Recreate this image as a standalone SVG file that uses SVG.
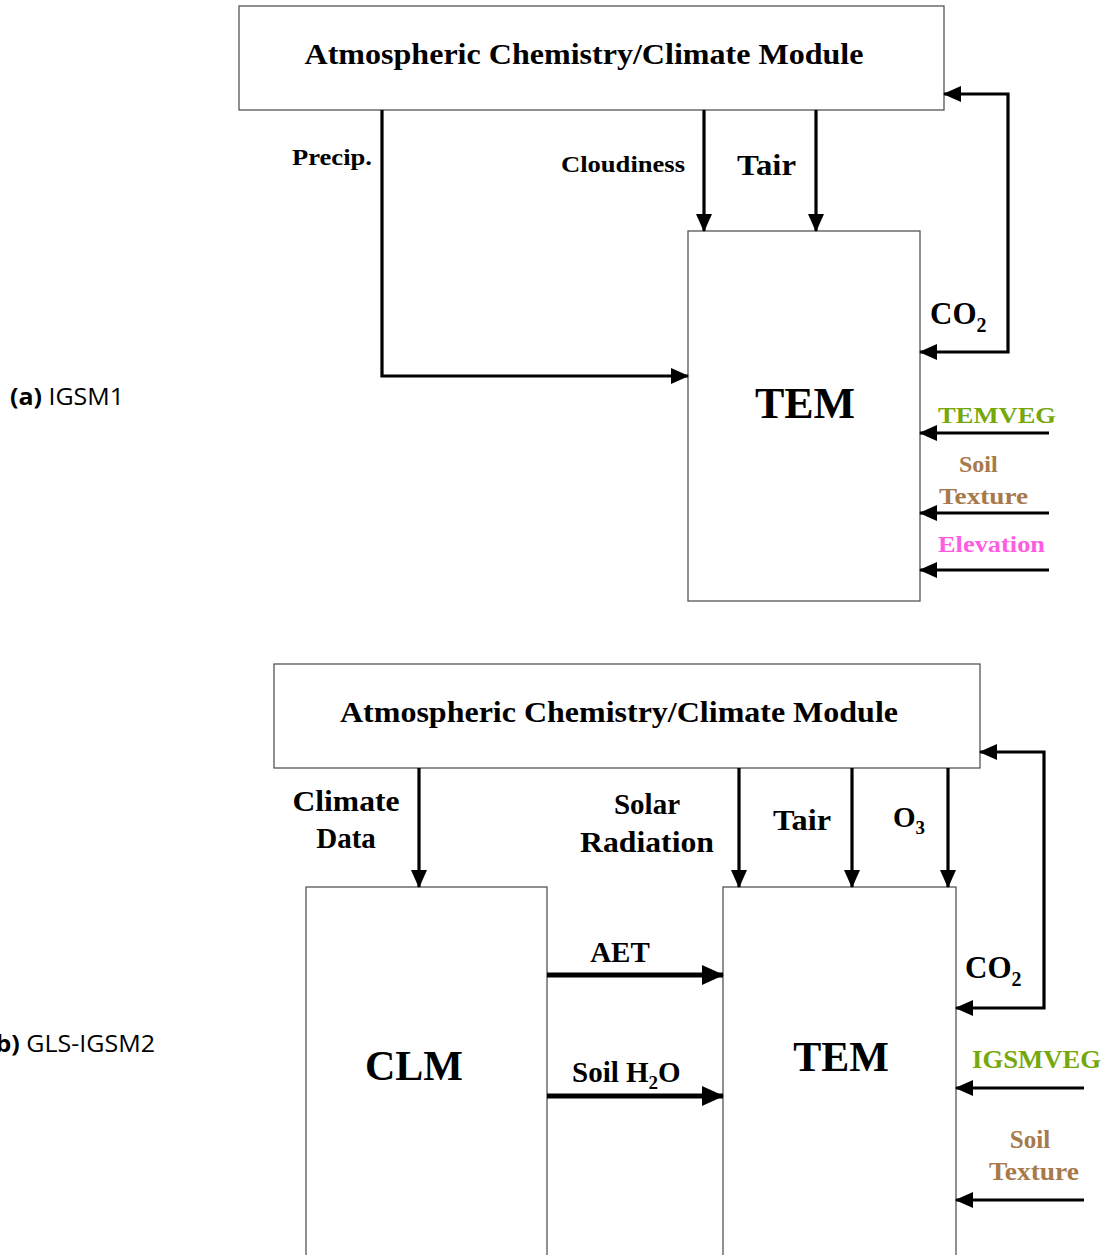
<svg xmlns="http://www.w3.org/2000/svg" width="1107" height="1255" viewBox="0 0 1107 1255">
<style>
.box{fill:#fff;stroke:#555;stroke-width:1.3}
.ln{fill:none;stroke:#000;stroke-width:3.2}
.thk{fill:none;stroke:#000;stroke-width:5}
.t{font-family:"Liberation Serif","Times New Roman",serif;font-weight:bold;fill:#000}
.s{font-family:"Open Sans","Noto Sans","Liberation Sans",sans-serif;fill:#000}
.g{fill:#76a80c}
.br{fill:#a8794a}
.pk{fill:#ff5ce3}
</style>
<defs>
<marker id="ah" markerUnits="userSpaceOnUse" markerWidth="18" markerHeight="16" refX="17" refY="8" orient="auto-start-reverse"><path d="M0,0 L18,8 L0,16 Z" fill="#000"/></marker>
<marker id="ahb" markerUnits="userSpaceOnUse" markerWidth="22" markerHeight="20" refX="21" refY="10" orient="auto"><path d="M0,0 L22,10 L0,20 Z" fill="#000"/></marker>
</defs>
<rect width="1107" height="1255" fill="#fff"/>

<!-- (a) -->
<g id="label-a"><text class="s" x="10" y="405" font-size="23" textLength="114" lengthAdjust="spacingAndGlyphs"><tspan font-weight="bold">(a)</tspan> IGSM1</text></g>
<g id="acm-a"><rect class="box" x="239" y="6" width="705" height="104"/>
<text class="t" x="584" y="64" font-size="29" text-anchor="middle" textLength="559" lengthAdjust="spacingAndGlyphs">Atmospheric Chemistry/Climate Module</text></g>
<g id="tem-a"><rect class="box" x="688" y="231" width="232" height="370"/>
<text class="t" x="805" y="418" font-size="44" text-anchor="middle">TEM</text></g>
<g id="connectors-a">
<path class="ln" d="M382,110 V376 H688" marker-end="url(#ah)"/>
<path class="ln" d="M704,110 V231" marker-end="url(#ah)"/>
<path class="ln" d="M816,110 V231" marker-end="url(#ah)"/>
<path class="ln" d="M920,352 H1008 V94 H944" marker-start="url(#ah)" marker-end="url(#ah)"/>
<path class="ln" d="M1049,433 H920" marker-end="url(#ah)"/>
<path class="ln" d="M1049,513 H920" marker-end="url(#ah)"/>
<path class="ln" d="M1049,570 H920" marker-end="url(#ah)"/>
</g>
<g id="labels-a">
<text class="t" x="292" y="165" font-size="23" textLength="80" lengthAdjust="spacingAndGlyphs">Precip.</text>
<text class="t" x="561" y="172" font-size="23" textLength="124" lengthAdjust="spacingAndGlyphs">Cloudiness</text>
<text class="t" x="737" y="175" font-size="29" textLength="59" lengthAdjust="spacingAndGlyphs">Tair</text>
<text class="t" x="930" y="324" font-size="31">CO<tspan font-size="20" dy="8">2</tspan></text>
<text class="t g" x="938" y="423" font-size="24" textLength="118" lengthAdjust="spacingAndGlyphs">TEMVEG</text>
<text class="t br" x="959" y="472" font-size="24">Soil</text>
<text class="t br" x="939" y="504" font-size="24" textLength="89" lengthAdjust="spacingAndGlyphs">Texture</text>
<text class="t pk" x="938" y="552" font-size="24" textLength="107" lengthAdjust="spacingAndGlyphs">Elevation</text>
</g>

<!-- (b) -->
<g id="label-b"><text class="s" x="-13" y="1052" font-size="23" textLength="168" lengthAdjust="spacingAndGlyphs"><tspan font-weight="bold">(b)</tspan> GLS-IGSM2</text></g>
<g id="acm-b"><rect class="box" x="274" y="664" width="706" height="104"/>
<text class="t" x="619" y="722" font-size="29" text-anchor="middle" textLength="558" lengthAdjust="spacingAndGlyphs">Atmospheric Chemistry/Climate Module</text></g>
<g id="clm"><rect class="box" x="306" y="887" width="241" height="380"/>
<text class="t" x="414" y="1080" font-size="42" text-anchor="middle">CLM</text></g>
<g id="tem-b"><rect class="box" x="723" y="887" width="233" height="380"/>
<text class="t" x="841" y="1071" font-size="42" text-anchor="middle">TEM</text></g>
<g id="connectors-b">
<path class="ln" d="M419,768 V887" marker-end="url(#ah)"/>
<path class="ln" d="M739,768 V887" marker-end="url(#ah)"/>
<path class="ln" d="M852,768 V887" marker-end="url(#ah)"/>
<path class="ln" d="M948,768 V887" marker-end="url(#ah)"/>
<path class="thk" d="M547,975 H723" marker-end="url(#ahb)"/>
<path class="thk" d="M547,1096 H723" marker-end="url(#ahb)"/>
<path class="ln" d="M956,1008 H1044 V752 H980" marker-start="url(#ah)" marker-end="url(#ah)"/>
<path class="ln" d="M1084,1088 H956" marker-end="url(#ah)"/>
<path class="ln" d="M1084,1200 H956" marker-end="url(#ah)"/>
</g>
<g id="labels-b">
<text class="t" x="346" y="811" font-size="29" text-anchor="middle" textLength="107" lengthAdjust="spacingAndGlyphs">Climate</text>
<text class="t" x="346" y="848" font-size="29" text-anchor="middle">Data</text>
<text class="t" x="647" y="814" font-size="29" text-anchor="middle">Solar</text>
<text class="t" x="647" y="852" font-size="29" text-anchor="middle" textLength="134" lengthAdjust="spacingAndGlyphs">Radiation</text>
<text class="t" x="773" y="830" font-size="29" textLength="58" lengthAdjust="spacingAndGlyphs">Tair</text>
<text class="t" x="893" y="827" font-size="29">O<tspan font-size="19" dy="7">3</tspan></text>
<text class="t" x="620" y="962" font-size="29" text-anchor="middle">AET</text>
<text class="t" x="572" y="1082" font-size="29">Soil H<tspan font-size="19" dy="7">2</tspan><tspan dy="-7">O</tspan></text>
<text class="t" x="965" y="978" font-size="31">CO<tspan font-size="20" dy="8">2</tspan></text>
<text class="t g" x="972" y="1068" font-size="25" textLength="129" lengthAdjust="spacingAndGlyphs">IGSMVEG</text>
<text class="t br" x="1030" y="1148" font-size="25" text-anchor="middle">Soil</text>
<text class="t br" x="1034" y="1180" font-size="25" text-anchor="middle" textLength="90" lengthAdjust="spacingAndGlyphs">Texture</text>
</g>
</svg>
